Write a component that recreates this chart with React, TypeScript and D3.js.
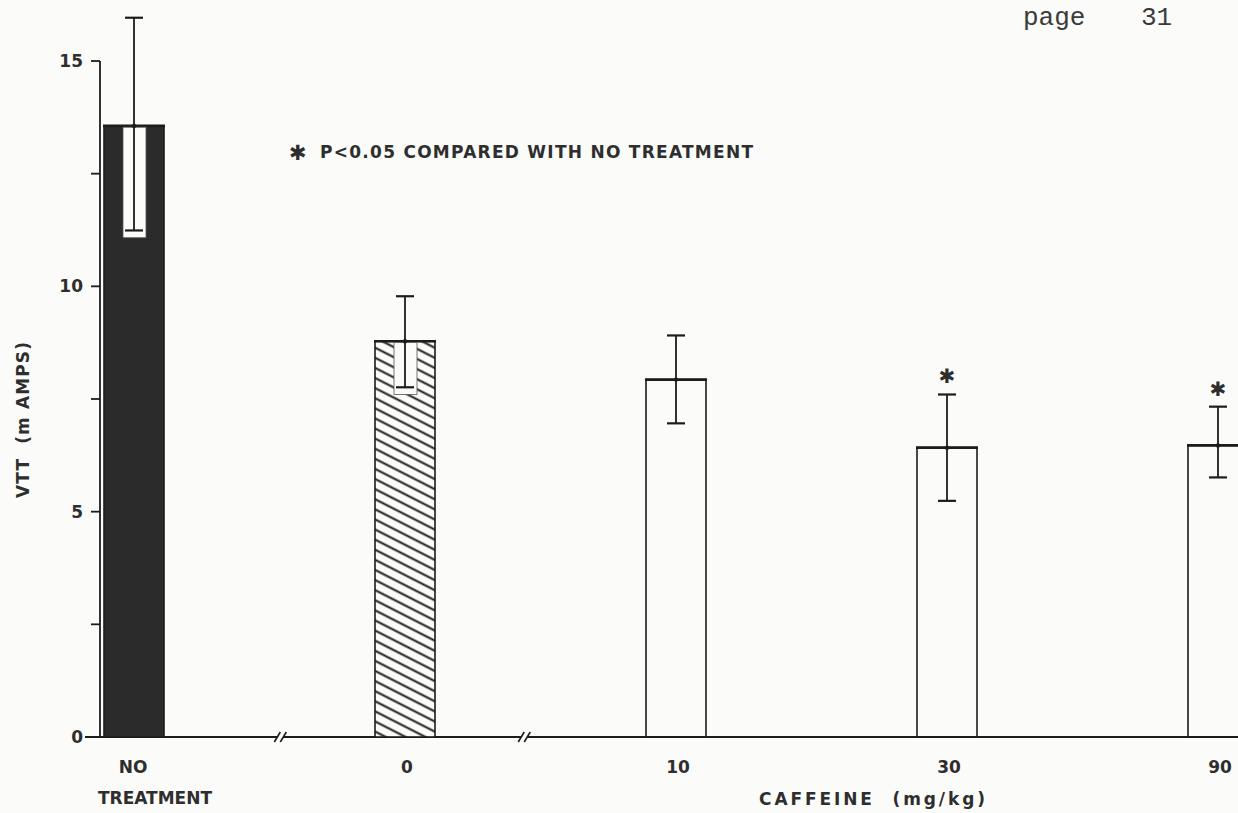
import React, { useEffect, useRef } from 'react';
import * as d3 from 'd3';

// groups on the x axis (the axis is broken between the first three)
const categories = ['NO TREATMENT', '0', '10', '30', '90'];
const categoryLines = [['NO', 'TREATMENT'], ['0'], ['10'], ['30'], ['90']];
const groupKind = ['control', 'vehicle', 'caffeine', 'caffeine', 'caffeine'];

// VTT means and error bars (mAMPS)
const means = [13.56, 8.78, 7.93, 6.42, 6.47];
const errHigh = [2.4, 1.0, 0.98, 1.18, 0.86];
const errLow = [2.32, 1.02, 0.97, 1.18, 0.71];
const significant = [false, false, false, true, true];

const yTicks = [0, 2.5, 5, 7.5, 10, 12.5, 15];
const yTickLabels = ['0', '', '5', '', '10', '', '15'];

// axis breaks sit between these pairs of categories
const axisBreaks = [
  { after: 0, frac: 0.54 },
  { after: 1, frac: 0.44 }
];

const legendText = 'P<0.05 COMPARED WITH NO TREATMENT';
const xTitle = 'CAFFEINE  (mg/kg)';
const yTitle = 'VTT  (m AMPS)';
const pageText = ['page', '31'];

const App = () => {
  const container = useRef(null);

  useEffect(() => {
    createChart();
  }, []);

  const createChart = () => {
    const width = 1238;
    const height = 813;
    const ink = '#1c1c1c';
    const letterInk = '#2e2e2e';
    const paper = '#fbfbfa';
    const font = '"DejaVu Sans", sans-serif';
    const fs = 17;
    const barWidth = 60;

    const svg = d3
      .select(container.current)
      .selectAll('svg')
      .data([0])
      .join('svg')
      .attr('width', width)
      .attr('height', height)
      .style('position', 'absolute')
      .style('left', 0)
      .style('top', 0)
      .style('background', paper);

    svg.selectAll('*').remove();

    const xScale = d3
      .scalePoint()
      .domain(categories)
      .range([134, 1218]);

    const yScale = d3
      .scaleLinear()
      .domain([0, 15])
      .range([737, 61]);

    const step = xScale.step();

    // hatch pattern for the vehicle bar
    const defs = svg.append('defs');
    const pat = defs
      .append('pattern')
      .attr('id', 'hatch')
      .attr('patternUnits', 'userSpaceOnUse')
      .attr('width', 40)
      .attr('height', 9)
      .attr('patternTransform', 'rotate(27)');
    pat
      .append('rect')
      .attr('width', 40)
      .attr('height', 9)
      .attr('fill', paper);
    pat
      .append('line')
      .attr('x1', 0)
      .attr('x2', 40)
      .attr('y1', 4.5)
      .attr('y2', 4.5)
      .attr('stroke', ink)
      .attr('stroke-width', 2);

    const fillFor = kind =>
      kind === 'control' ? '#2b2b2b' : kind === 'vehicle' ? 'url(#hatch)' : 'none';

    const data = categories.map((c, i) => ({
      cat: c,
      mean: means[i],
      hi: errHigh[i],
      lo: errLow[i],
      kind: groupKind[i],
      sig: significant[i]
    }));

    const label = (g, txt) =>
      g
        .append('text')
        .attr('font-family', font)
        .attr('font-weight', 'bold')
        .attr('font-size', fs)
        .attr('fill', letterInk)
        .text(txt);

    // y axis
    const yaxisg = svg.append('g').attr('class', 'y-axis-g');
    const y0 = yScale(0);
    const axisX = 100;
    yaxisg
      .append('line')
      .attr('x1', axisX)
      .attr('x2', axisX)
      .attr('y1', yScale(15))
      .attr('y2', y0)
      .attr('stroke', ink)
      .attr('stroke-width', 1.8);
    yaxisg
      .selectAll('.ytick')
      .data(yTicks)
      .join('line')
      .attr('class', 'ytick')
      .attr('x1', axisX - 9)
      .attr('x2', axisX)
      .attr('y1', d => yScale(d))
      .attr('y2', d => yScale(d))
      .attr('stroke', ink)
      .attr('stroke-width', 1.8);
    yaxisg
      .selectAll('.ylabel')
      .data(yTicks)
      .join('text')
      .attr('class', 'ylabel')
      .attr('x', axisX - 17)
      .attr('y', d => yScale(d))
      .attr('dy', '0.36em')
      .attr('text-anchor', 'end')
      .attr('font-family', font)
      .attr('font-weight', 'bold')
      .attr('font-size', fs)
      .attr('fill', letterInk)
      .text((d, i) => yTickLabels[i]);

    label(yaxisg, yTitle)
      .attr('transform', `translate(29, ${(342 + 498) / 2}) rotate(-90)`)
      .attr('text-anchor', 'middle')
      .attr('textLength', 156)
      .attr('lengthAdjust', 'spacing')
      .style('white-space', 'pre');

    // x axis line with breaks
    const xaxisg = svg.append('g').attr('class', 'x-axis-g');
    const gap = 3;
    const breakXs = axisBreaks.map(b => xScale(categories[b.after]) + b.frac * step);
    const segEnds = [85, ...breakXs.flatMap(bx => [bx - gap, bx + gap]), width];
    for (let i = 0; i < segEnds.length; i += 2) {
      xaxisg
        .append('line')
        .attr('x1', segEnds[i])
        .attr('x2', segEnds[i + 1])
        .attr('y1', y0)
        .attr('y2', y0)
        .attr('stroke', ink)
        .attr('stroke-width', 2);
    }
    breakXs.forEach(bx => {
      [-gap, gap].forEach(off => {
        xaxisg
          .append('line')
          .attr('x1', bx + off - 3)
          .attr('x2', bx + off + 3)
          .attr('y1', y0 + 5)
          .attr('y2', y0 - 5)
          .attr('stroke', ink)
          .attr('stroke-width', 1.6);
      });
    });

    // category labels
    categoryLines.forEach((lines, i) => {
      const cx = xScale(categories[i]);
      lines.forEach((ln, j) => {
        label(xaxisg, ln)
          .attr('x', lines.length > 1 ? cx + (j === 0 ? -1 : 21) : cx + 2)
          .attr('y', y0 + 36 + j * 31)
          .attr('text-anchor', 'middle');
      });
    });

    label(xaxisg, xTitle)
      .attr('x', 872)
      .attr('y', y0 + 68)
      .attr('text-anchor', 'middle')
      .attr('textLength', 226)
      .attr('lengthAdjust', 'spacing')
      .style('white-space', 'pre');

    // bars
    const plotg = svg.append('g').attr('class', 'plotg');
    const bars = plotg
      .selectAll('.bar')
      .data(data)
      .join('g')
      .attr('class', 'bar');

    bars
      .append('rect')
      .attr('x', d => xScale(d.cat) - barWidth / 2)
      .attr('y', d => yScale(d.mean))
      .attr('width', barWidth)
      .attr('height', d => y0 - yScale(d.mean))
      .attr('fill', d => fillFor(d.kind))
      .attr('stroke', ink)
      .attr('stroke-width', 1.6);

    bars
      .append('line')
      .attr('x1', d => xScale(d.cat) - barWidth / 2 - 1)
      .attr('x2', d => xScale(d.cat) + barWidth / 2 + 1)
      .attr('y1', d => yScale(d.mean))
      .attr('y2', d => yScale(d.mean))
      .attr('stroke', ink)
      .attr('stroke-width', 2.6);

    // white window behind the lower error bar on filled bars
    bars
      .filter(d => d.kind !== 'caffeine')
      .append('rect')
      .attr('x', d => xScale(d.cat) - 11)
      .attr('y', d => yScale(d.mean) + 1.3)
      .attr('width', 23)
      .attr('height', d => yScale(d.mean - d.lo) - yScale(d.mean) + 6)
      .attr('fill', paper)
      .attr('stroke', '#555')
      .attr('stroke-width', 0.8);

    // error bars
    const capW = 18;
    bars
      .append('line')
      .attr('x1', d => xScale(d.cat))
      .attr('x2', d => xScale(d.cat))
      .attr('y1', d => yScale(d.mean + d.hi))
      .attr('y2', d => yScale(d.mean - d.lo))
      .attr('stroke', ink)
      .attr('stroke-width', 1.8);
    bars
      .append('line')
      .attr('x1', d => xScale(d.cat) - capW / 2)
      .attr('x2', d => xScale(d.cat) + capW / 2)
      .attr('y1', d => yScale(d.mean + d.hi))
      .attr('y2', d => yScale(d.mean + d.hi))
      .attr('stroke', ink)
      .attr('stroke-width', 2.2);
    bars
      .append('line')
      .attr('x1', d => xScale(d.cat) - capW / 2)
      .attr('x2', d => xScale(d.cat) + capW / 2)
      .attr('y1', d => yScale(d.mean - d.lo))
      .attr('y2', d => yScale(d.mean - d.lo))
      .attr('stroke', ink)
      .attr('stroke-width', 2.2);
    bars
      .append('circle')
      .attr('cx', d => xScale(d.cat))
      .attr('cy', d => yScale(d.mean))
      .attr('r', 2.2)
      .attr('fill', ink);

    // significance marks
    bars
      .filter(d => d.sig)
      .append('text')
      .attr('x', d => xScale(d.cat))
      .attr('y', d => yScale(d.mean + d.hi) - 11)
      .attr('text-anchor', 'middle')
      .attr('font-family', font)
      .attr('font-size', 20)
      .attr('fill', letterInk)
      .text('\u2731');

    // legend note
    svg
      .append('text')
      .attr('x', 289)
      .attr('y', 160)
      .attr('font-family', font)
      .attr('font-size', 21)
      .attr('fill', letterInk)
      .text('\u2731');
    label(svg, legendText)
      .attr('x', 320)
      .attr('y', 158)
      .attr('textLength', 433)
      .attr('lengthAdjust', 'spacing');

    // typed page number in the top corner
    svg
      .selectAll('.page')
      .data(pageText)
      .join('text')
      .attr('class', 'page')
      .attr('x', (d, i) => (i === 0 ? 1023 : 1141))
      .attr('y', 25)
      .attr('font-family', '"Liberation Mono", monospace')
      .attr('font-size', 26)
      .attr('fill', '#3a3a3a')
      .text(d => d);
  };

  return <div className="chart-container" ref={container}></div>;
};

export default App;
